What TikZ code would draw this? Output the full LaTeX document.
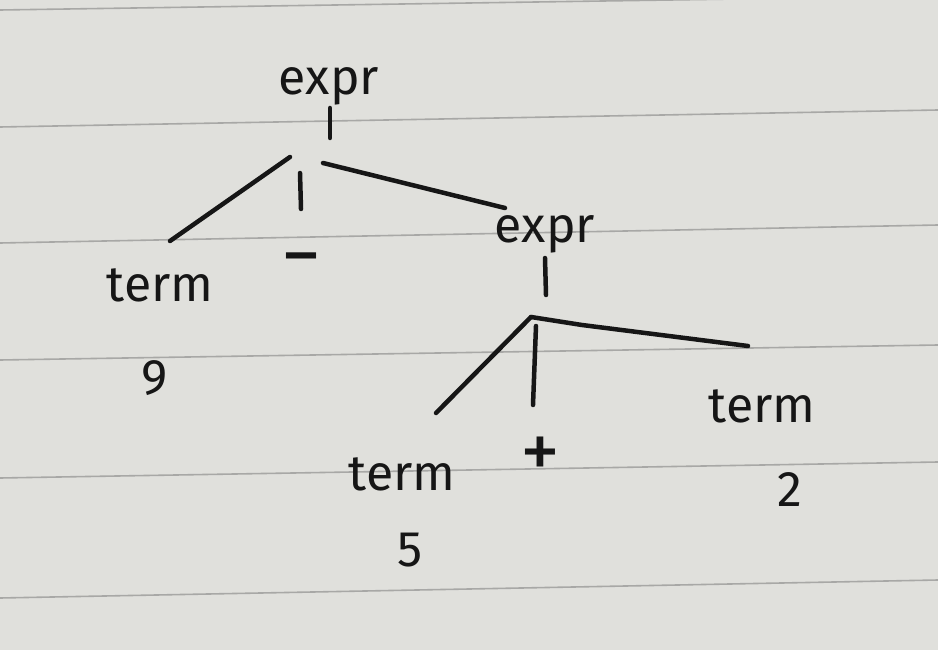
\documentclass[tikz,border=0pt]{standalone}
\usepackage{fontspec}
\setmainfont{Fira Sans}
\definecolor{paper}{RGB}{224,224,220}
\definecolor{rule}{RGB}{168,168,166}
\definecolor{ink}{RGB}{22,22,22}
\begin{document}
\begin{tikzpicture}[x=1pt,y=-1pt,
  lbl/.style={inner sep=0pt,text=ink,font=\fontsize{50}{56}\selectfont},
  sym/.style={inner sep=0pt,text=ink,font=\fontsize{80}{88}\selectfont},
  edge/.style={draw=ink,line width=4.5pt,line cap=round},
  paperline/.style={draw=rule,line width=1.6pt}]
\fill[paper] (0,0) rectangle (938,650);
\useasboundingbox (0,0) rectangle (938,650);
% ruled paper
\foreach \l/\r in {10/-4,127/110,243/225,360/345,478/462,598/580}
  \draw[paperline] (0,\l) -- (938,\r);
% nodes
\node[lbl] (expr1) at (329,86) {expr};
\node[lbl] (term9) at (160,285) {term};
\node[lbl] (nine) at (155,378) {9};
\node[sym] (minus) at (301,268) {−};
\node[lbl] (expr2) at (545,234) {expr};
\node[lbl] (term5) at (402,474) {term};
\node[sym] (plus) at (540,458) {+};
\node[lbl] (term2) at (762,406) {term};
\node[lbl] (five) at (410,550) {5};
\node[lbl] (two) at (790,490) {2};
% connector points
\coordinate (s1a) at (330,108);
\coordinate (s1b) at (330,138);
\coordinate (j1l) at (290,157);
\coordinate (e1l) at (170,241);
\coordinate (j1m) at (300,173);
\coordinate (e1m) at (301,209);
\coordinate (j1r) at (323,163);
\coordinate (e1r) at (505,208);
\coordinate (s2a) at (545,258);
\coordinate (s2b) at (546,295);
\coordinate (j2) at (531,317);
\coordinate (e2l) at (436,413);
\coordinate (j2m) at (536,326);
\coordinate (e2m) at (533,405);
\coordinate (k2) at (582,325);
\coordinate (e2r) at (748,346);
% connectors
\draw[edge] (s1a) -- (s1b);
\draw[edge] (j1l) -- (e1l);
\draw[edge] (j1m) -- (e1m);
\draw[edge] (j1r) -- (e1r);
\draw[edge] (s2a) -- (s2b);
\draw[edge] (j2) -- (e2l);
\draw[edge] (j2m) -- (e2m);
\draw[edge] (j2) -- (k2) -- (e2r);
\end{tikzpicture}
\end{document}
